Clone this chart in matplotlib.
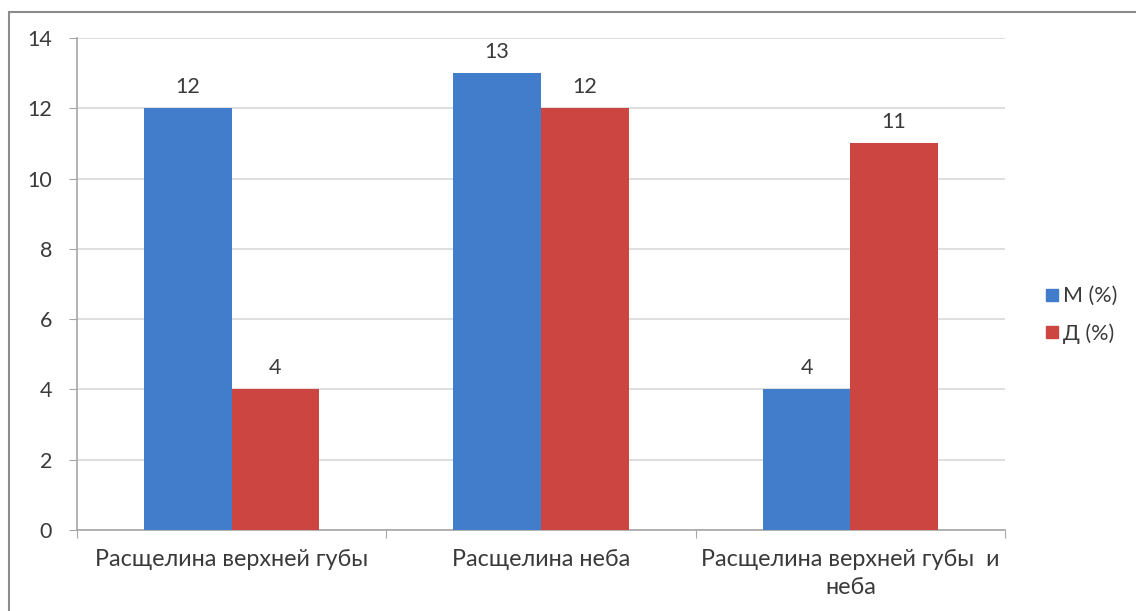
import matplotlib
matplotlib.use("Agg")
import matplotlib.pyplot as plt
import numpy as np
from matplotlib.patches import Rectangle
from matplotlib.lines import Line2D

categories = ["Расщелина верхней губы", "Расщелина неба", "Расщелина верхней губы  и\nнеба"]
series_names = ["М (%)", "Д (%)"]
boys = [12, 13, 4]
girls = [4, 12, 11]
yticks = [0, 2, 4, 6, 8, 10, 12, 14]

colors = ["#417DCB", "#CD4540"]
text_color = "#3a3a3a"

plt.rcParams["font.family"] = ["Lato", "DejaVu Sans"]

W, H = 1136, 611
fig = plt.figure(figsize=(W / 100, H / 100), dpi=100)
fig.patch.set_facecolor("white")

# outer chart border
fig.add_artist(Rectangle((9 / W, -0.05), 1.2, 1 - 12 / H + 0.05, transform=fig.transFigure,
                         fill=False, edgecolor="#8c8c8c", linewidth=1.5))

left, right, top, bottom = 77, 1005, 38, 530
ax = fig.add_axes([left / W, 1 - bottom / H, (right - left) / W, (bottom - top) / H])

x = np.arange(len(categories))
bw = 0.283
b1 = ax.bar(x - bw / 2, boys, width=bw, color=colors[0], zorder=3)
b2 = ax.bar(x + bw / 2, girls, width=bw, color=colors[1], zorder=3)

fs = 15.5
for bars, vals in ((b1, boys), (b2, girls)):
    for rect, v in zip(bars, vals):
        ax.text(rect.get_x() + rect.get_width() / 2, v + 0.33, f"{v}", ha="center", va="bottom",
                fontsize=fs, color=text_color)

ax.set_xlim(-0.5, len(categories) - 0.5)
ax.set_ylim(0, 14)
ax.set_yticks(yticks)
ax.set_yticklabels([str(t) for t in yticks], fontsize=fs, color=text_color)
ax.yaxis.grid(True, color="#d9d9d9", linewidth=1.2, zorder=0)
ax.set_axisbelow(True)

ax.set_xticks(np.arange(len(categories) + 1) - 0.5)
ax.set_xticklabels([])
ax.set_xticks(x, minor=True)
ax.set_xticklabels(categories, minor=True, fontsize=16.8, color=text_color, linespacing=1.4)
ax.tick_params(axis="x", which="major", length=6, color="#a6a6a6", direction="out")
ax.tick_params(axis="x", which="minor", length=0, pad=14)
ax.tick_params(axis="y", length=6, color="#a6a6a6", pad=12)

for s in ("top", "right"):
    ax.spines[s].set_visible(False)
for s in ("left", "bottom"):
    ax.spines[s].set_color("#a6a6a6")
    ax.spines[s].set_linewidth(1.2)

handles = [Line2D([], [], marker="s", linestyle="none", markersize=9, color=c) for c in colors]
fig.legend(handles, series_names, loc="center left", bbox_to_anchor=(1022 / W, 1 - 315 / H),
           frameon=False, fontsize=15.5, labelcolor=text_color, handletextpad=0.0,
           labelspacing=0.8, handlelength=1.0)

fig.savefig("out.png", dpi=100, facecolor="white")
